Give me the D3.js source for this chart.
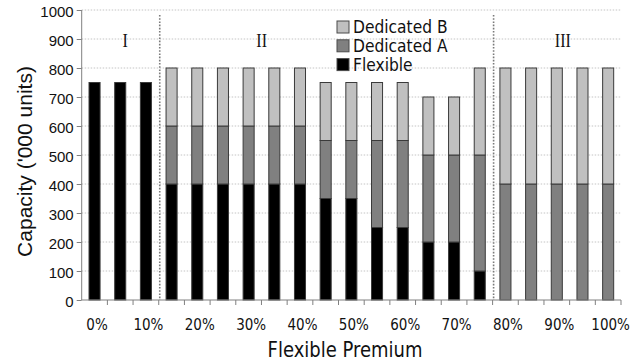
<!DOCTYPE html>
<html><head><meta charset="utf-8">
<script src="https://cdn.jsdelivr.net/npm/d3@7"></script>
<style>body{margin:0;background:#fff}svg{display:block}</style>
</head><body>
<script>
// ---- data ----
const categories = ["0%","5%","10%","15%","20%","25%","30%","35%","40%","45%","50%","55%","60%","65%","70%","75%","80%","85%","90%","95%","100%"];
const flexible   = [750,750,750,400,400,400,400,400,400,350,350,250,250,200,200,100,0,0,0,0,0];
const dedicatedA = [0,0,0,200,200,200,200,200,200,200,200,300,300,300,300,400,400,400,400,400,400];
const dedicatedB = [0,0,0,200,200,200,200,200,200,200,200,200,200,200,200,300,400,400,400,400,400];
const seriesKeys = ["Flexible","Dedicated A","Dedicated B"];
const legendOrder = ["Dedicated B","Dedicated A","Flexible"];
const yTicks = [0,100,200,300,400,500,600,700,800,900,1000];
const xTickLabels = ["0%","10%","20%","30%","40%","50%","60%","70%","80%","90%","100%"];
const regionLabels = ["I","II","III"];
const regionStarts = ["0%","15%","80%"]; // first category in each region

// ---- layout ----
const W = 641, H = 362;
const L = 81.7, R = 621, T = 10, B = 300;
const colors = {"Flexible":"#000000","Dedicated A":"#808080","Dedicated B":"#c0c0c0"};

const svg = d3.select("body").append("svg").attr("width", W).attr("height", H);

const x = d3.scaleBand().domain(categories).range([L, R]).paddingInner(0.57).paddingOuter(0.285);
const y = d3.scaleLinear().domain([0, 1000]).range([B, T]);
const step = x.step();
const bw = x.bandwidth();

// gridlines
svg.append("g").selectAll("line").data(yTicks.filter(d => d > 0)).join("line")
  .attr("x1", L).attr("x2", R).attr("y1", d => y(d)).attr("y2", d => y(d))
  .attr("stroke", "#c4c4c4").attr("stroke-width", 1).attr("stroke-dasharray", "1.5,1.5");

// region separators
const sepCats = regionStarts.slice(1);
svg.append("g").selectAll("line").data(sepCats).join("line")
  .attr("x1", d => x(d) - (step - bw) / 2 + 1).attr("x2", d => x(d) - (step - bw) / 2 + 1)
  .attr("y1", 15).attr("y2", B)
  .attr("stroke", "#7a7a7a").attr("stroke-width", 1.6).attr("stroke-dasharray", "1.6,1.6");

// stacked bars
const table = categories.map((c, i) => ({cat: c, "Flexible": flexible[i], "Dedicated A": dedicatedA[i], "Dedicated B": dedicatedB[i]}));
const stacked = d3.stack().keys(seriesKeys)(table);
svg.append("g").selectAll("g").data(stacked).join("g")
  .attr("fill", d => colors[d.key])
  .selectAll("rect").data(d => d.filter(p => p[1] - p[0] > 0)).join("rect")
  .attr("x", d => x(d.data.cat)).attr("width", bw)
  .attr("y", d => y(d[1])).attr("height", d => y(d[0]) - y(d[1]))
  .attr("stroke", "#3a3a3a").attr("stroke-width", 1);

// axes
const yAxis = svg.append("g").attr("transform", `translate(${L},0)`)
  .call(d3.axisLeft(y).tickValues(yTicks).tickSize(5).tickPadding(3).tickFormat(d3.format("d")));
yAxis.select(".domain").attr("stroke", "#808080").attr("d", `M0,${T}V${B}`);
yAxis.selectAll(".tick line").attr("stroke", "#808080");
yAxis.selectAll(".tick text").attr("font-family", "'Liberation Sans', Arial, sans-serif")
  .attr("font-size", 15).attr("fill", "#111").attr("dy", "0.4em");

const xAxis = svg.append("g").attr("transform", `translate(0,${B})`)
  .call(d3.axisBottom(x).tickValues([]).tickSize(0));
xAxis.select(".domain").attr("stroke", "#808080").attr("d", `M${L},0H${R}`);
// ticks between categories
const boundaries = categories.map(c => x(c) - (step - bw) / 2).concat([R]);
xAxis.selectAll("line.bt").data(boundaries.slice(1)).join("line").attr("class", "bt")
  .attr("x1", d => d).attr("x2", d => d).attr("y1", 0).attr("y2", 5).attr("stroke", "#808080");
xAxis.selectAll("text.xl").data(xTickLabels).join("text").attr("class", "xl")
  .attr("transform", d => `translate(${x(d) + bw / 2 + 2.5},30) scale(1,1.12)`)
  .attr("text-anchor", "middle")
  .attr("font-family", "'DejaVu Sans', Verdana, sans-serif").attr("font-size", 13.5).attr("fill", "#111")
  .text(d => d);

// axis titles
svg.append("text").attr("transform", "translate(345,357) scale(1,1.15)")
  .attr("text-anchor", "middle").attr("font-family", "'DejaVu Sans', Verdana, sans-serif")
  .attr("font-size", 18).attr("fill", "#111").text("Flexible Premium");
svg.append("text").attr("transform", "translate(31.5,161.5) rotate(-90)")
  .attr("text-anchor", "middle").attr("font-family", "'Liberation Sans', Arial, sans-serif")
  .attr("font-size", 21).attr("fill", "#111").text("Capacity ('000 units)");

// region labels
const regionX = [x("5%") + bw / 2 + 5, x("30%") + bw / 2 + 13, x("90%") + bw / 2 + 6];
svg.append("g").selectAll("text").data(regionLabels).join("text")
  .attr("transform", (d, i) => `translate(${regionX[i]},46.5) scale(1,1.15)`)
  .attr("text-anchor", "middle").attr("font-family", "'Liberation Serif', 'Times New Roman', serif")
  .attr("font-size", 16).attr("fill", "#111").text(d => d);

// legend
const lg = svg.append("g").attr("transform", "translate(337,0)");
const li = lg.selectAll("g").data(legendOrder).join("g")
  .attr("transform", (d, i) => `translate(0,${33 + i * 18.8})`);
li.append("rect").attr("x", 0).attr("y", -12).attr("width", 12).attr("height", 12)
  .attr("fill", d => colors[d]).attr("stroke", "#4a4a4a").attr("stroke-width", 1);
li.append("text").attr("transform", "translate(16,0) scale(1,1.1)")
  .attr("font-family", "'DejaVu Sans', Verdana, sans-serif").attr("font-size", 15.5).attr("fill", "#111")
  .text(d => d);
</script>
</body></html>
